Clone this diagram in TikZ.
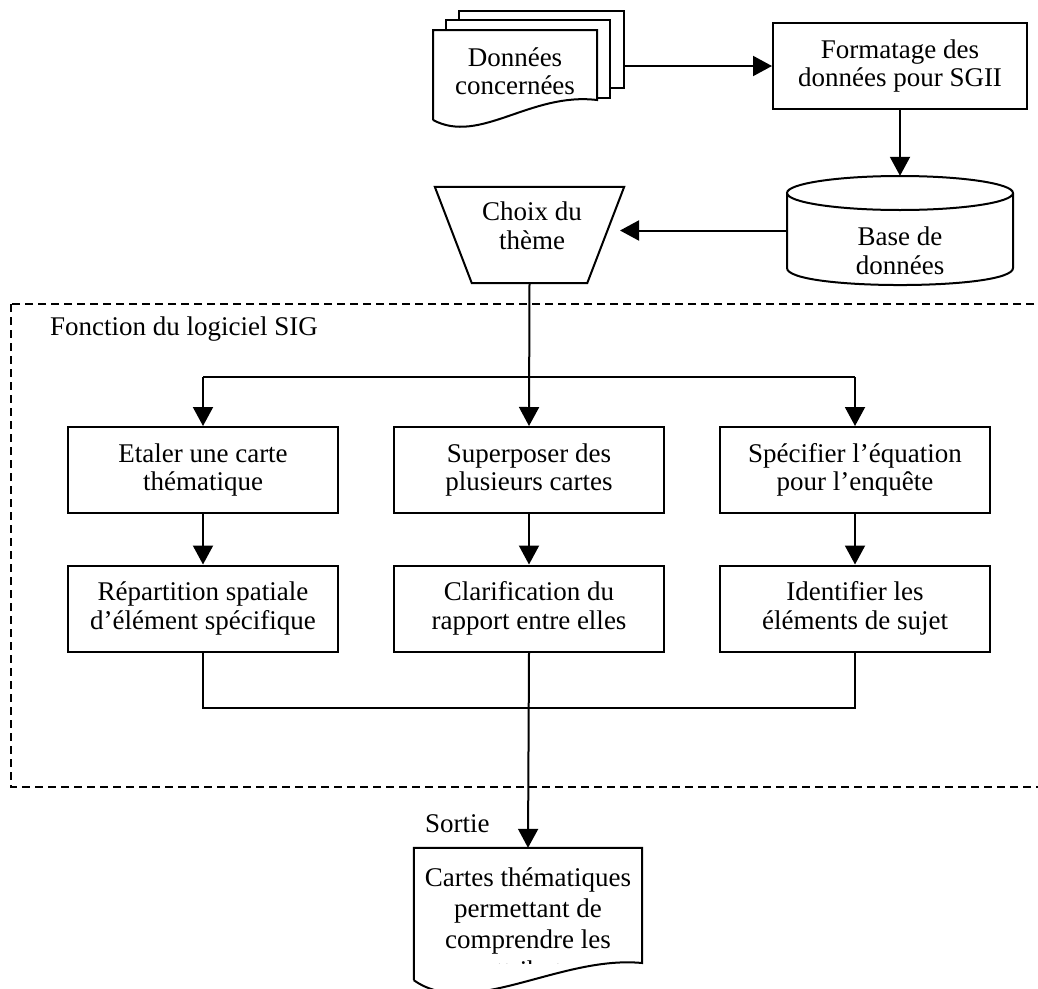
\documentclass[tikz,border=0pt]{standalone}
\usepackage{fontspec}
\setmainfont{Liberation Serif}
\usetikzlibrary{arrows.meta}
\begin{document}
\begin{tikzpicture}[x=1pt,y=-1pt,
  every node/.style={font=\fontsize{27}{28.5}\selectfont, align=center, inner sep=0pt},
  flow/.style={line width=2pt},
  arr/.style={flow, -{Triangle[length=19pt,width=20pt]}},
  stepbox/.style={draw, flow, minimum width=270pt, minimum height=86pt},
  frame/.style={flow, dash pattern=on 8pt off 5pt},
]
\useasboundingbox (0,0) rectangle (1038,988);
\clip (0,0) rectangle (1038,988);

% ---- input documents (stack of three sheets)
\node[draw, flow, minimum width=165pt, minimum height=77pt] (sheet3) at (541.5,49.5) {};
\node[draw, flow, fill=white, minimum width=164pt, minimum height=78pt] (sheet2) at (528,59) {};
\draw[flow, fill=white] (433,120) -- (433,30) -- (597,30) -- (597,100)
  .. controls (530,92) and (480,145) .. (433,120);
\node (docs) at (515,71) {Données\\concernées};

% ---- formatting step
\node[draw, flow, minimum width=254pt, minimum height=86pt] (fmt) at (900,66) {Formatage des\\données pour SGII};

% ---- database cylinder
\node[minimum width=226pt, minimum height=109pt] (db) at (900,230.5) {};
\draw[flow] (900,193) ellipse [x radius=113, y radius=17];
\draw[flow] (787,193) -- (787,268)
  .. controls (787,290.7) and (1013,290.7) .. (1013,268) -- (1013,193);
\node (dbtext) at (900,251) {Base de\\données};

% ---- theme choice (manual input trapezoid)
\node[minimum width=189pt, minimum height=96pt] (theme) at (529.5,235) {};
\draw[flow] (theme.north west) -- (theme.north east)
  -- ([xshift=-37pt]theme.south east) -- ([xshift=37pt]theme.south west) -- cycle;
\node (themetext) at (532,226) {Choix du\\thème};
\coordinate (themein) at (620,230.5);

% ---- GIS software frame
\draw[frame] (11,304) rectangle (1060,787);
\node[anchor=base west] (siglabel) at (50,335) {Fonction du logiciel SIG};

% ---- processing boxes
\node[stepbox] (a1) at (203,470) {Etaler une carte\\thématique};
\node[stepbox] (a2) at (529,470) {Superposer des\\plusieurs cartes};
\node[stepbox] (a3) at (855,470) {Spécifier l’équation\\pour l’enquête};
\node[stepbox] (b1) at (203,608.5) {Répartition spatiale\\d’élément spécifique};
\node[stepbox] (b2) at (529,608.5) {Clarification du\\rapport entre elles};
\node[stepbox] (b3) at (855,608.5) {Identifier les\\éléments de sujet};

% ---- output document (text overflows and is cut by the shape)
\node[minimum width=228pt, minimum height=132pt] (out) at (528,914) {};
\draw[flow] (out.south west) -- (out.north west) -- (out.north east) -- (642,963)
  .. controls (560,955) and (470,1020) .. (out.south west);
\begin{scope}
  \clip (414,850) rectangle (642,963);
  \node[anchor=base, font=\fontsize{27}{31}\selectfont] (outtext) at (528,979)
    {Cartes thématiques\\permettant de\\comprendre les\\attributs};
\end{scope}
\node[anchor=base west] (sortie) at (425,832) {Sortie};

% ---- connectors
\coordinate (bustop) at (529,377);
\coordinate (busbot) at (529,708);
\draw[arr] (sheet3.east |- fmt.west) -- (fmt.west);
\draw[arr] (fmt.south) -- (db.north);
\draw[arr] (db.west) -- (themein);
\draw[arr] (theme.south) -- (a2.north);
\draw[flow] (a1.north |- bustop) -- (a3.north |- bustop);
\draw[arr] (a1.north |- bustop) -- (a1.north);
\draw[arr] (a3.north |- bustop) -- (a3.north);
\draw[arr] (a1) -- (b1);
\draw[arr] (a2) -- (b2);
\draw[arr] (a3) -- (b3);
\draw[flow] (b1.south) -- (b1.south |- busbot) -- (b3.south |- busbot) -- (b3.south);
\draw[arr] (b2.south) -- (out.north);
\end{tikzpicture}
\end{document}
